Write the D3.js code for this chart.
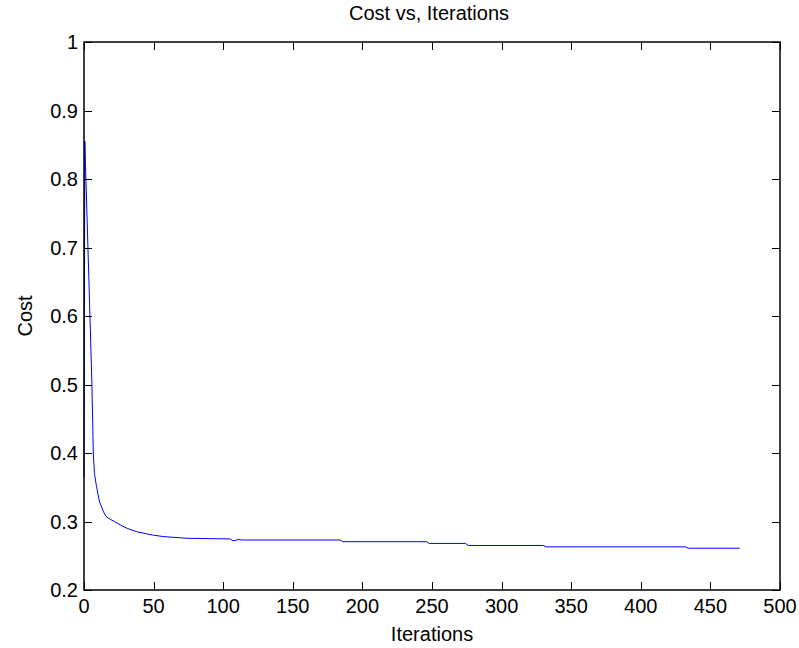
<!DOCTYPE html>
<html>
<head>
<meta charset="utf-8">
<script src="https://cdn.jsdelivr.net/npm/d3@7/dist/d3.min.js"></script>
<style>
  html, body { margin: 0; padding: 0; background: #fff; }
  svg { display: block; }
  text { font-family: "Liberation Sans", Arial, sans-serif; fill: #000; }
</style>
</head>
<body>
<svg id="chart" width="799" height="648"></svg>
<script>
// Data
const iterations = [0, 0.6, 5.6, 6.7, 7.5, 9, 11, 14, 16, 19, 22, 26, 31, 38, 45, 50, 57, 74, 105, 107, 109, 111, 113, 184, 186, 246, 248, 274, 276, 330, 332, 432, 434, 471];
const cost       = [0.365, 0.855, 0.507, 0.40, 0.37, 0.351, 0.33, 0.314, 0.307, 0.303, 0.300, 0.295, 0.290, 0.285, 0.282, 0.280, 0.278, 0.2755, 0.2745, 0.272, 0.2725, 0.274, 0.273, 0.273, 0.2705, 0.2705, 0.268, 0.268, 0.265, 0.265, 0.263, 0.263, 0.261, 0.261];
const xTicks = [0, 50, 100, 150, 200, 250, 300, 350, 400, 450, 500];
const yTicks = [0.2, 0.3, 0.4, 0.5, 0.6, 0.7, 0.8, 0.9, 1];
const titleText = "Cost vs, Iterations";
const xLabel = "Iterations";
const yLabel = "Cost";

const svg = d3.select("#chart");
const L = 84, R = 780, T = 42, B = 590;
const x = d3.scaleLinear().domain([0, 500]).range([L, R]);
const y = d3.scaleLinear().domain([0.2, 1]).range([B, T]);
const tickLen = 8;
const fs = 20;

// line
const data = iterations.map((d, i) => [d, cost[i]]);
svg.append("path")
  .datum(data)
  .attr("fill", "none")
  .attr("stroke", "#0000ff")
  .attr("stroke-width", 1)
  .attr("d", d3.line().x(d => x(d[0])).y(d => y(d[1])));

// Axes box
const g = svg.append("g");
g.append("rect").attr("x", L).attr("y", T).attr("width", R - L).attr("height", B - T)
  .attr("fill", "none").attr("stroke", "#000").attr("stroke-width", 1.5);

// x ticks (inward, bottom and top)
xTicks.forEach(t => {
  const px = Math.round(x(t)) + 0.5;
  g.append("line").attr("x1", px).attr("x2", px).attr("y1", B).attr("y2", B - tickLen).attr("stroke", "#000");
  g.append("line").attr("x1", px).attr("x2", px).attr("y1", T).attr("y2", T + tickLen).attr("stroke", "#000");
  g.append("text").attr("x", x(t)).attr("y", B + 23).attr("text-anchor", "middle")
    .attr("font-size", fs).text(d3.format("d")(t));
});
// y ticks (inward, left and right)
yTicks.forEach(t => {
  const py = Math.round(y(t)) + 0.5;
  g.append("line").attr("x1", L).attr("x2", L + tickLen).attr("y1", py).attr("y2", py).attr("stroke", "#000");
  g.append("line").attr("x1", R).attr("x2", R - tickLen).attr("y1", py).attr("y2", py).attr("stroke", "#000");
  g.append("text").attr("x", L - 6).attr("y", y(t) + 7).attr("text-anchor", "end")
    .attr("font-size", fs).text(t === 1 ? "1" : d3.format(".1f")(t));
});

// Title and labels
svg.append("text").attr("x", (L + R) / 2 - 3).attr("y", 20).attr("text-anchor", "middle")
  .attr("font-size", fs).text(titleText);
svg.append("text").attr("x", (L + R) / 2).attr("y", 641).attr("text-anchor", "middle")
  .attr("font-size", fs).text(xLabel);
svg.append("text").attr("transform", `translate(32, ${(T + B) / 2}) rotate(-90)`).attr("text-anchor", "middle")
  .attr("font-size", fs).text(yLabel);
</script>
</body>
</html>
